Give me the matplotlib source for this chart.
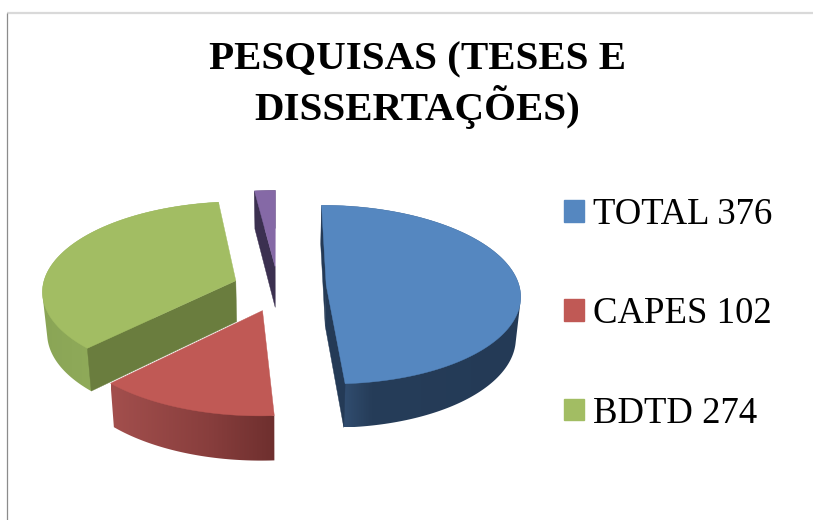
import numpy as np
from matplotlib import pyplot as plt
from matplotlib.colors import LinearSegmentedColormap
from matplotlib.patches import Patch, Polygon

# dados
categorias = ['TOTAL', 'CAPES', 'BDTD', '']
valores = [376, 102, 274, 15]
legenda = ['TOTAL 376', 'CAPES 102', 'BDTD 274']
titulo = 'PESQUISAS (TESES E\nDISSERTAÇÕES)'

cores_topo = ['#5587C0', '#C05955', '#A2BD63', '#8569A6']
cores_corte = ['#243A56', '#6E2F2E', '#6A7D3E', '#3B3050']
# gradiente da parede externa, da esquerda para a direita: (fracao em x, cor)
gradiente_parede = [
    [(0.0, '#3A5A82'), (0.25, '#263D59'), (1.0, '#243A56')],
    [(0.0, '#A34F4D'), (0.6, '#883E3D'), (1.0, '#6E2F2E')],
    [(0.0, '#8AA556'), (0.5, '#93AE5C'), (1.0, '#86A052')],
    [(0.0, '#3B3050'), (1.0, '#3B3050')],
]
# afastamento de cada fatia no disco (lateral, profundidade)
desloca_u = [0.25, -0.078, -0.22, -0.015]
desloca_v = [0.01, -0.27, 0.06, 0.22]
ordem = [3, 2, 1, 0]  # de tras para frente

# projecao do disco
CX, CY = 278, 286
RX, RY = 193, 88.5
K = 0.106
ALTURA = 41
ENCOLHE = 0.98


def projeta(u, v, base=False):
    w = 1 + K * v
    x = CX + RX * u / w
    y = CY - RY * v / w
    if base:
        x = CX + (x - CX) * ENCOLHE
        y = y + ALTURA / w ** 0.6
    return x, y


def casco(pontos):
    # casco convexo, para a parede nao ficar com degrau na lateral
    pts = sorted(set(map(tuple, pontos)))

    def meia(seq):
        saida = []
        for p in seq:
            while len(saida) >= 2:
                a, b = saida[-2], saida[-1]
                if (b[0] - a[0]) * (p[1] - a[1]) - (b[1] - a[1]) * (p[0] - a[0]) <= 0:
                    saida.pop()
                else:
                    break
            saida.append(p)
        return saida[:-1]

    return np.array(meia(pts) + meia(pts[::-1]))


fig, ax = plt.subplots(figsize=(8.13, 5.2), dpi=100)
ax.set_position([0, 0, 1, 1])
ax.axis('off')

# moldura
ax.plot([6.5, 813], [13, 13], color='#D9D9D9', lw=1.6, solid_capstyle='butt')
ax.plot([6.5, 6.5], [13, 520], color='#8C8C8C', lw=0.9, solid_capstyle='butt')

# angulos a partir das 12h, sentido horario
fim = np.cumsum(valores) / np.sum(valores) * 2 * np.pi
inicio = np.concatenate([[0], fim[:-1]])

for i in ordem:
    u0 = desloca_u[i]
    v0 = desloca_v[i]
    t = np.linspace(inicio[i], fim[i], 200)
    u = u0 + np.sin(t)
    v = v0 + np.cos(t)

    xt, yt = projeta(u, v)
    xb, yb = projeta(u, v, base=True)
    ax_t, ay_t = projeta(u0, v0)
    ax_b, ay_b = projeta(u0, v0, base=True)

    # parede externa com gradiente recortado
    contorno = casco(np.c_[np.r_[xt, xb], np.r_[yt, yb]])
    xp, yp = contorno[:, 0], contorno[:, 1]
    mapa = LinearSegmentedColormap.from_list('parede%d' % i, gradiente_parede[i])
    img = ax.imshow(np.linspace(0, 1, 256).reshape(1, -1), cmap=mapa, aspect='auto',
                    extent=[xp.min(), xp.max(), yp.max(), yp.min()], zorder=2 + 3 * (3 - i))
    img.set_clip_path(Polygon(contorno, transform=ax.transData))

    z = 3 + 3 * (3 - i)
    # faces do corte que ficam visiveis
    if i == 0:
        ax.fill([xt[0], ax_t, ax_b, xb[0]], [yt[0], ay_t, ay_b, yb[0]], color=cores_corte[i], lw=0.3, zorder=z)
        ax.fill([xt[-1], ax_t, ax_b, xb[-1]], [yt[-1], ay_t, ay_b, yb[-1]], color=cores_corte[i], lw=0.3, zorder=z)
    if i in (2, 3):
        ax.fill([xt[0], ax_t, ax_b, xb[0]], [yt[0], ay_t, ay_b, yb[0]], color=cores_corte[i], lw=0.3, zorder=z)

    # topo
    ax.fill(np.r_[ax_t, xt], np.r_[ay_t, yt], color=cores_topo[i], lw=0.3, zorder=z + 1)

ax.set_xlim(0, 813)
ax.set_ylim(520, 0)

ax.text(417, 85, titulo, ha='center', va='center', fontsize=29.5, fontweight='bold',
        family='Liberation Serif', linespacing=1.2, color='black')

handles = [Patch(facecolor=c, edgecolor=c) for c in ['#5587C0', '#C05955', '#A2BD63']]
ax.legend(handles, legenda, loc='center left', bbox_to_anchor=(0.694, 0.396), frameon=False,
          prop={'family': 'Liberation Serif', 'size': 26.5}, handlelength=0.53, handleheight=0.53,
          handletextpad=0.26, labelspacing=1.76, borderpad=0, borderaxespad=0, labelcolor='black')

plt.savefig('out.png', dpi=100)
plt.close()
